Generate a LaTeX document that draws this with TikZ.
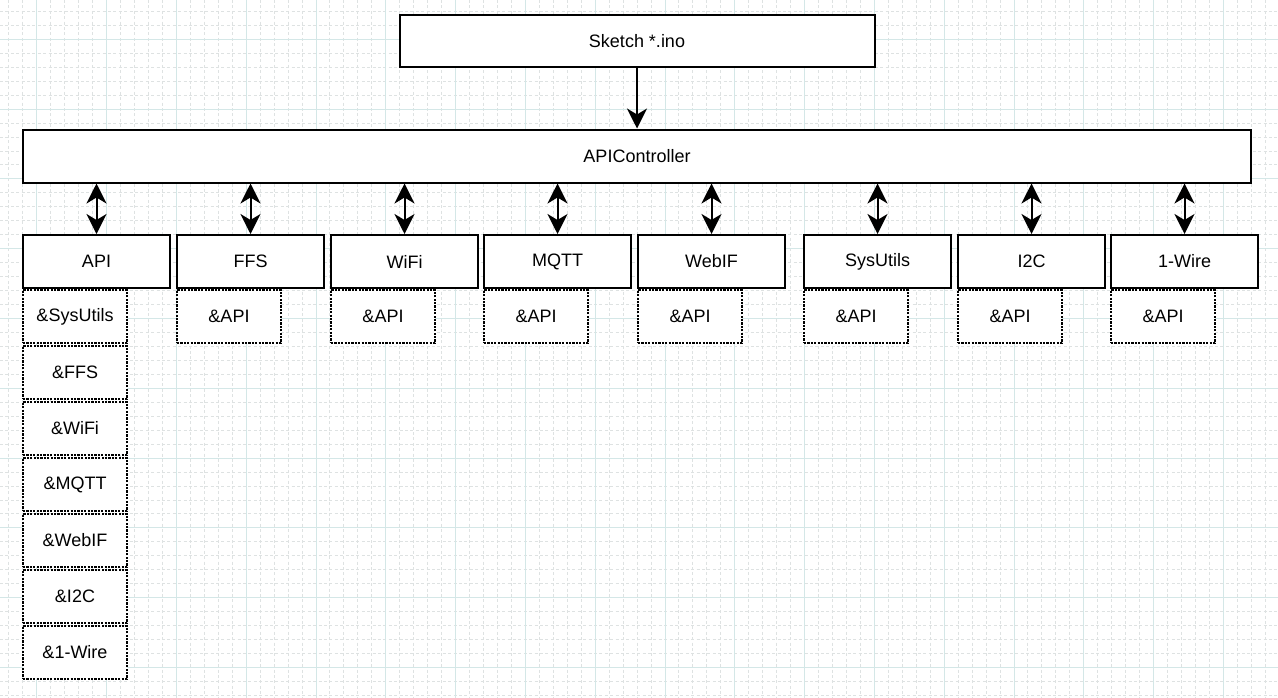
\documentclass[tikz,border=0pt]{standalone}
\usepackage{fontspec}
\setmainfont{Liberation Sans}
\usetikzlibrary{arrows.meta}
\definecolor{gridminor}{RGB}{222,226,226}
\definecolor{gridmajor}{RGB}{212,231,231}

\begin{document}
\begin{tikzpicture}[x=0.5pt, y=-0.5pt,
        box/.style={draw, line width=1pt, fill=white, inner sep=0pt,
            minimum height=26.5pt, font=\fontsize{9}{10}\selectfont},
        modbox/.style={box, minimum width=73.5pt},
        refbox/.style={box, minimum width=52pt, line width=1.2pt, dash pattern=on 1.1pt off 0.6pt},
        tip/.style={Stealth[length=10pt, width=10pt, inset=3pt]},
        link/.style={line width=1pt, -{Stealth[length=10pt, width=10pt, inset=3pt]}},
        dlink/.style={line width=1pt, {Stealth[length=10pt, width=10pt, inset=3pt]}-{Stealth[length=10pt, width=10pt, inset=3pt]}}]

        % grid paper
        \useasboundingbox (0,0) rectangle (1278,697);
        \fill[white] (0,0) rectangle (1278,697);
        \foreach \i in {0,...,91}
            \draw[gridminor, line width=0.5pt, dash pattern=on 1.5pt off 1.2pt] ({8.9+13.96*\i},0) -- ++(0,697);
        \foreach \i in {0,...,49}
            \draw[gridminor, line width=0.5pt, dash pattern=on 1.5pt off 1.2pt] (0,{11.4+13.96*\i}) -- ++(1278,0);
        \foreach \i in {0,...,18}
            \draw[gridmajor, line width=0.5pt] ({36.8+69.8*\i},0) -- ++(0,697);
        \foreach \i in {0,...,9}
            \draw[gridmajor, line width=0.5pt] (0,{39.3+69.8*\i}) -- ++(1278,0);

        \node[box, minimum width=237.5pt, minimum height=26pt] (sketch) at (637,41) {Sketch *.ino};
        \node[box, minimum width=614pt] (ctrl) at (637,156) {APIController};

        \node[modbox] (api) at (96.5,261.5) {API};
        \node[modbox] (ffs) at (250.5,261.5) {FFS};
        \node[modbox] (wifi) at (404.5,261.5) {WiFi};
        \node[modbox] (mqtt) at (557.5,261.5) {MQTT};
        \node[modbox] (webif) at (711.5,261.5) {WebIF};
        \node[modbox] (sysutils) at (877.5,261.5) {SysUtils};
        \node[modbox] (i2c) at (1031.5,261.5) {I2C};
        \node[modbox] (onewire) at (1184.5,261.5) {1-Wire};

        \node[refbox] (apisys) at (75,316.5) {\&SysUtils};
        \node[refbox] (apiffs) at (75,372.5) {\&FFS};
        \node[refbox] (apiwifi) at (75,428.5) {\&WiFi};
        \node[refbox] (apimqtt) at (75,484.5) {\&MQTT};
        \node[refbox] (apiwebif) at (75,540.5) {\&WebIF};
        \node[refbox] (apii2c) at (75,596.5) {\&I2C};
        \node[refbox] (apiow) at (75,652.5) {\&1-Wire};

        \node[refbox] (ffsapi) at (229,316.5) {\&API};
        \node[refbox] (wifiapi) at (383,316.5) {\&API};
        \node[refbox] (mqttapi) at (536,316.5) {\&API};
        \node[refbox] (webifapi) at (690,316.5) {\&API};
        \node[refbox] (sysutilsapi) at (856,316.5) {\&API};
        \node[refbox] (i2capi) at (1010,316.5) {\&API};
        \node[refbox] (owapi) at (1163,316.5) {\&API};

        \draw[link] (sketch.south) -- (sketch.south |- ctrl.north);
        \draw[dlink] (api.north |- ctrl.south) -- (api.north);
        \draw[dlink] (ffs.north |- ctrl.south) -- (ffs.north);
        \draw[dlink] (wifi.north |- ctrl.south) -- (wifi.north);
        \draw[dlink] (mqtt.north |- ctrl.south) -- (mqtt.north);
        \draw[dlink] (webif.north |- ctrl.south) -- (webif.north);
        \draw[dlink] (sysutils.north |- ctrl.south) -- (sysutils.north);
        \draw[dlink] (i2c.north |- ctrl.south) -- (i2c.north);
        \draw[dlink] (onewire.north |- ctrl.south) -- (onewire.north);
    \end{tikzpicture}
\end{document}
